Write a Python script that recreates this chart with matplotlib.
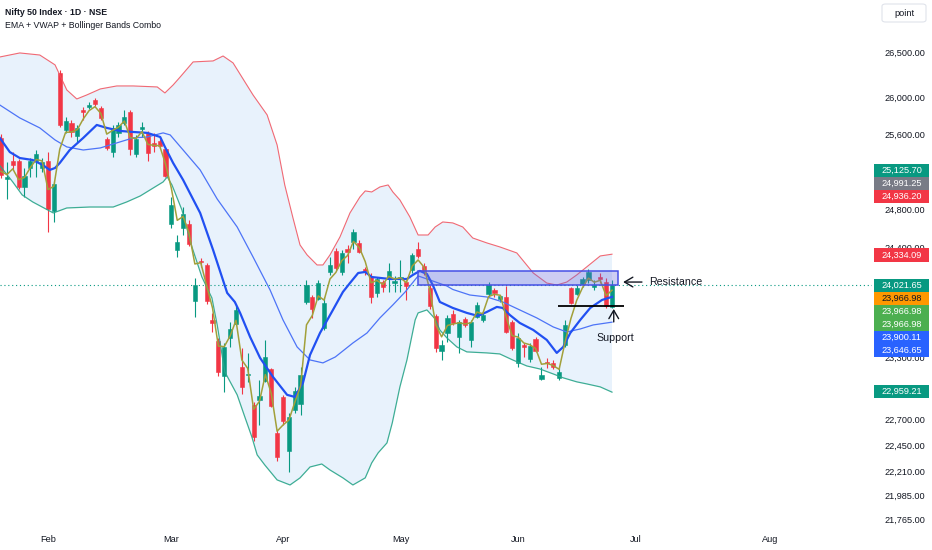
import matplotlib
matplotlib.use("Agg")
import matplotlib.pyplot as plt
import numpy as np
from matplotlib.patches import Rectangle, FancyBboxPatch
from matplotlib.ticker import FixedLocator, NullLocator

plt.rcParams['font.family'] = ['Liberation Sans', 'DejaVu Sans']

# daily candles, Nifty 50
opens = [25557, 25119, 25310, 25310, 25034, 25235, 25310, 25235, 25310, 24782,
         26267, 25643, 25719, 25578, 25860, 25893, 25969, 25882, 25546, 25405,
         25611, 25719, 25838, 25384, 25654, 25611, 25503, 25524, 25438, 24646,
         24378, 24605, 24646, 23859, 24265, 24224, 23669, 23460, 23117, 23490,
         23629, 23204, 23127, 22836, 22884, 23068, 23185, 22568, 22913, 22398,
         22788, 22845, 23849, 23899, 23879, 23589, 24153, 24367, 24153, 24388,
         24460, 24450, 24183, 24101, 23940, 24050, 24081, 24040, 24081, 24050,
         24173, 24388, 24214, 23990, 23709, 23361, 23539, 23729, 23500, 23679,
         23470, 23699, 23669, 23930, 23970, 23879, 23899, 23649, 23244, 23421,
         23283, 23480, 23088, 23254, 23244, 23098, 23421, 23990, 23930, 24030,
         24071, 24000, 24101, 24050, 23799]
highs = [25600, 25299, 25405, 25331, 25235, 25341, 25427, 25341, 25405, 25097,
         26300, 25784, 25751, 25697, 25893, 25947, 25991, 25903, 25567, 25697,
         25729, 25860, 25860, 25589, 25729, 25632, 25611, 25546, 25449, 24929,
         24532, 24823, 24688, 24091, 24296, 24245, 23739, 23490, 23440, 23649,
         23819, 23391, 23342, 22865, 23078, 23470, 23195, 22596, 22933, 22759,
         23010, 23204, 24071, 23919, 24071, 23899, 24306, 24399, 24378, 24429,
         24594, 24481, 24204, 24142, 24101, 24071, 24245, 24112, 24275, 24071,
         24347, 24460, 24245, 24020, 23729, 23470, 23719, 23769, 23669, 23699,
         23669, 23849, 23739, 24050, 23990, 23919, 24010, 23669, 23539, 23440,
         23440, 23500, 23204, 23293, 23273, 23204, 23669, 24000, 24020, 24101,
         24183, 24071, 24142, 24091, 24071]
lows = [25129, 24907, 25214, 25013, 24929, 25140, 25140, 25193, 24563, 24667,
        25675, 25611, 25567, 25503, 25751, 25871, 25903, 25751, 25427, 25352,
        25567, 25697, 25373, 25352, 25567, 25310, 25405, 25449, 25140, 24605,
        24306, 24532, 24419, 23699, 24204, 23829, 23549, 23117, 22961, 23401,
        23619, 22942, 23059, 22492, 22644, 23059, 22817, 22303, 22644, 22199,
        22759, 22740, 23829, 23689, 23869, 23569, 24122, 24173, 24122, 24245,
        24388, 24347, 24122, 23839, 23899, 23950, 23950, 23950, 23950, 23869,
        24142, 24296, 24122, 23779, 23352, 23273, 23450, 23619, 23342, 23599,
        23401, 23689, 23649, 23899, 23899, 23849, 23539, 23371, 23204, 23302,
        23254, 23352, 23078, 23195, 23185, 23078, 23401, 23829, 23919, 24000,
        24040, 23970, 24040, 23789, 23789]
closes = [25161, 25140, 25267, 25034, 25150, 25310, 25384, 25299, 24803, 25065,
          25697, 25740, 25621, 25665, 25838, 25914, 25925, 25773, 25449, 25665,
          25697, 25784, 25438, 25546, 25675, 25395, 25470, 25470, 25150, 24845,
          24460, 24750, 24440, 24020, 24255, 23859, 23639, 23156, 23401, 23579,
          23769, 23010, 23136, 22530, 22923, 23302, 22826, 22341, 22682, 22721,
          22971, 23127, 24020, 23779, 24040, 23839, 24224, 24193, 24347, 24357,
          24563, 24357, 24163, 23899, 24081, 24000, 24163, 24061, 24101, 24010,
          24327, 24316, 24153, 23809, 23391, 23421, 23689, 23639, 23649, 23619,
          23649, 23819, 23719, 24020, 23940, 23909, 23549, 23391, 23490, 23401,
          23411, 23361, 23127, 23244, 23204, 23156, 23619, 23839, 23990, 24081,
          24153, 24020, 24081, 23809, 24021.65]

# short EMA (olive line), one value per candle
ema_fast = [25200, 25164, 25226, 25111, 25134, 25240, 25326, 25310, 25006, 25041,
            25435, 25618, 25620, 25647, 25762, 25853, 25896, 25822, 25598, 25638,
            25673, 25740, 25559, 25551, 25625, 25487, 25477, 25473, 25279, 25019,
            24684, 24724, 24554, 24234, 24247, 24014, 23789, 23409, 23404, 23509,
            23665, 23272, 23190, 22794, 22871, 23130, 22948, 22584, 22643, 22690,
            22859, 23020, 23620, 23715, 23910, 23867, 24081, 24148, 24267, 24321,
            24466, 24401, 24258, 24043, 24066, 24026, 24108, 24080, 24093, 24043,
            24213, 24275, 24202, 23966, 23621, 23501, 23614, 23629, 23641, 23628,
            23641, 23748, 23731, 23904, 23926, 23916, 23696, 23513, 23499, 23440,
            23423, 23386, 23231, 23239, 23218, 23181, 23444, 23681, 23866, 23995,
            24090, 24048, 24068, 23913, 23966.98]

# Bollinger upper band (bar position, value)
upper_x = [-0.2, 3.2, 6.6, 9.2, 11.2, 12.9, 14.6, 16.9, 19.7, 22.5, 26.6, 27.9, 29.3, 30.5,
           32.7, 36.1, 37.8, 39.5, 42.9, 45.3, 47.0, 48.3, 49.7, 50.9, 52.1, 53.8, 54.8, 56.0,
           57.7, 59.4, 61.1, 62.0, 63.1, 64.5, 65.9, 66.7, 67.9, 69.6, 71.0, 72.7, 73.9, 75.2,
           76.9, 78.6, 80.3, 82.7, 84.9, 87.8, 90.6, 92.9, 94.6, 96.3, 98.0, 99.7, 102.0, 104.0]
upper_v = [26444, 26489, 26466, 26356, 26079, 25980, 26024, 26090, 26123, 26123, 26112, 26046,
           26134, 26222, 26389, 26400, 26455, 26378, 26024, 25806, 25481, 25055, 24709, 24429,
           24327, 24224, 24224, 24327, 24512, 24761, 24929, 24992, 24981, 25034, 25055, 24981,
           24897, 24719, 24532, 24532, 24615, 24667, 24657, 24615, 24501, 24450, 24409, 24347,
           24142, 24040, 24020, 24050, 24122, 24204, 24316, 24334.09]

# Bollinger lower band
lower_x = [-0.2, 2.0, 3.6, 5.4, 8.9, 11.2, 15.1, 19.1, 21.4, 23.7, 26.2, 27.6, 28.3, 29.1,
           30.8, 32.5, 34.2, 35.9, 36.8, 38.1, 40.2, 41.5, 42.7, 43.6, 44.9, 47.0, 49.2, 50.9,
           52.6, 54.6, 56.0, 58.2, 59.9, 62.0, 63.1, 64.2, 65.7, 66.6, 67.9, 69.1, 70.5, 71.0,
           72.5, 73.9, 74.7, 75.9, 77.6, 79.3, 82.7, 84.9, 87.1, 89.5, 91.7, 94.0, 95.7, 98.0,
           99.7, 102.0, 104.0]
lower_v = [25260, 25087, 24950, 24876, 24761, 24813, 24823, 24823, 24876, 24939, 25034, 25087,
           25140, 25055, 24792, 24409, 24101, 23889, 23619, 23156, 22933, 22721, 22530, 22360,
           22265, 22125, 22078, 22144, 22246, 22274, 22218, 22144, 22078, 22144, 22284, 22379,
           22473, 22663, 23010, 23273, 23669, 23739, 23769, 23679, 23569, 23490, 23401, 23352,
           23342, 23332, 23273, 23214, 23185, 23136, 23098, 23059, 23039, 23010, 22959.21]

# Bollinger basis (thin blue)
basis_x = [-0.2, 3.2, 6.6, 9.2, 11.2, 14.0, 16.9, 19.7, 22.5, 24.9, 27.6, 28.8, 31.0, 33.9,
           36.8, 40.2, 42.9, 45.8, 48.0, 50.4, 52.6, 54.8, 56.9, 59.9, 62.3, 64.5, 66.7, 68.8,
           71.0, 73.0, 75.9, 76.9, 79.8, 82.7, 85.4, 88.3, 91.2, 94.0, 96.3, 98.6, 100.8, 104.0]
basis_v = [25914, 25773, 25665, 25535, 25460, 25427, 25449, 25503, 25557, 25567, 25611, 25589,
           25427, 25214, 24907, 24615, 24306, 23970, 23669, 23401, 23273, 23244, 23302, 23440,
           23539, 23689, 23819, 23950, 24112, 24071, 24010, 23975, 23919, 23899, 23849, 23769,
           23689, 23599, 23549, 23579, 23619, 23646.65]

# slow EMA (thick blue)
ema_x = [-0.2, 1.5, 3.2, 5.4, 7.1, 8.3, 9.2, 10.0, 11.7, 14.0, 16.3, 18.0, 20.3, 22.5, 24.9,
         27.1, 27.9, 29.3, 31.0, 33.9, 36.1, 38.5, 39.8, 40.7, 42.4, 44.1, 46.3, 48.7, 50.0,
         51.4, 52.6, 54.3, 56.5, 58.2, 59.4, 60.8, 62.0, 63.1, 66.2, 69.1, 70.1, 71.3, 72.5,
         73.5, 74.7, 76.9, 79.3, 81.2, 82.7, 84.4, 85.4, 86.6, 88.3, 90.6, 92.9, 94.6, 95.7,
         96.9, 98.6, 100.3, 102.3, 104.0]
ema_v = [25557, 25405, 25341, 25320, 25267, 25214, 25235, 25288, 25427, 25557, 25697, 25665,
         25632, 25621, 25611, 25567, 25460, 25288, 25108, 24761, 24378, 23940, 23849, 23739,
         23500, 23293, 23107, 22933, 22913, 23049, 23322, 23539, 23769, 23950, 24040, 24142,
         24153, 24101, 24081, 24081, 24122, 24163, 24132, 24020, 23849, 23789, 23739, 23709,
         23749, 23799, 23789, 23719, 23639, 23569, 23470, 23342, 23401, 23539, 23669, 23789,
         23869, 23900.11]

# drawn levels
resistance_lo, resistance_hi = 24020, 24163
resistance_from, resistance_to = 71.0, 105.0
support_level = 23809
support_from, support_to = 94.8, 106.0

months = ["Feb", "Mar", "Apr", "May", "Jun", "Jul", "Aug"]
month_bars = [8, 29, 48, 68, 88, 108, 131]

# scale labels that are not covered by a value tag
price_ticks = [26500, 26000, 25600, 24800, 24400, 23300, 22700, 22450, 22210, 21985, 21765]

tag_values = [25125.70, 24991.25, 24936.20, 24334.09, 24021.65, 23966.98, 23966.98,
              23966.98, 23900.11, 23646.65, 22959.21]
tag_colors = ["#089981", "#787b86", "#f23645", "#f23645", "#089981", "#ff9800", "#4caf50",
              "#4caf50", "#2962ff", "#2962ff", "#089981"]
tag_y_px = [170.5, 183.5, 196.5, 255, 285, 298, 311, 324, 337, 350, 391]

W, H = 932, 550
TXT = "#131722"
fig = plt.figure(figsize=(W / 100, H / 100), dpi=100)
ax = fig.add_axes([0, 22 / H, 872 / W, 528 / H])

o = np.array(opens, float)
c = np.array(closes, float)
hi = np.array(highs, float)
lo = np.array(lows, float)
bars = np.arange(len(c))
col = np.where(c >= o, "#089981", "#f23645")

# band fill
ax.fill(upper_x + lower_x[::-1], upper_v + lower_v[::-1], color="#e8f2fc", lw=0, zorder=0.5)
ax.axhline(closes[-1], color="#089981", lw=0.8, ls=(0, (1, 2.5)), zorder=1)

# candles
ax.vlines(bars, lo, hi, colors=col, lw=0.8, zorder=2)
ax.bar(bars, np.abs(c - o), bottom=np.minimum(o, c), width=0.72, color=col,
       edgecolor=col, lw=0.4, zorder=2.2)

# indicators
ax.plot(upper_x, upper_v, color="#f0505c", lw=0.8, alpha=0.85, zorder=3)
ax.plot(lower_x, lower_v, color="#2aa58a", lw=0.9, alpha=0.9, zorder=3)
ax.plot(basis_x, basis_v, color="#4d74f7", lw=0.9, zorder=3)
ax.plot(ema_x, ema_v, color="#2150f2", lw=1.6, zorder=3.2)
ax.plot(bars, ema_fast, color="#a2a03a", lw=1.1, zorder=3.4)

# resistance zone + support line
ax.add_patch(Rectangle((resistance_from, resistance_lo), resistance_to - resistance_from,
                       resistance_hi - resistance_lo, facecolor=(0.40, 0.40, 0.86, 0.32),
                       edgecolor="#4650e6", lw=1.1, zorder=4))
ax.hlines(support_level, support_from, support_to, color="black", lw=1.3, zorder=5)

ax.annotate("", xy=(105.9, 24050), xytext=(109.1, 24050),
            arrowprops=dict(arrowstyle="->,head_length=0.6,head_width=0.35", color=TXT,
                            lw=1.0, shrinkA=0, shrinkB=0), zorder=5)
ax.text(110.3, 24050, "Resistance", va="center", ha="left", fontsize=7.7, color=TXT)
ax.annotate("", xy=(104.3, 23779), xytext=(104.3, 23649),
            arrowprops=dict(arrowstyle="->,head_length=0.6,head_width=0.35", color=TXT,
                            lw=1.0, shrinkA=0, shrinkB=0), zorder=5)
ax.text(104.6, 23490, "Support", va="center", ha="center", fontsize=7.7, color=TXT)

# axes
ax.set_yscale("log")
ax.set_xlim(-0.17, 148.26)
ax.set_ylim(21681, 27087)
ax.yaxis.tick_right()
ax.yaxis.set_major_locator(FixedLocator(price_ticks))
ax.yaxis.set_minor_locator(NullLocator())
ax.set_yticklabels([f"{v:,.2f}" for v in price_ticks])
ax.set_xticks(month_bars)
ax.set_xticklabels(months)
ax.tick_params(axis="y", which="both", length=0, pad=9, labelsize=6.6, labelcolor=TXT)
ax.tick_params(axis="x", length=0, pad=5, labelsize=6.6, labelcolor=TXT)
for s in ax.spines.values():
    s.set_visible(False)

# last-value tags on the price scale
for v, cc, y in zip(tag_values, tag_colors, tag_y_px):
    fig.patches.append(Rectangle((874 / W, 1 - (y + 6.5) / H), 55 / W, 13 / H,
                                 transform=fig.transFigure, facecolor=cc, edgecolor="none",
                                 zorder=5))
    fig.text(901.5 / W, 1 - y / H, f"{v:,.2f}", ha="center", va="center", fontsize=6.6,
             color=TXT if cc == "#ff9800" else "white", zorder=6)

fig.patches.append(FancyBboxPatch((882 / W, 1 - 22 / H), 44 / W, 18 / H,
                                  boxstyle="round,pad=0,rounding_size=0.004",
                                  transform=fig.transFigure, facecolor="white",
                                  edgecolor="#e0e3eb", lw=0.8, zorder=5))
fig.text(904 / W, 1 - 13 / H, "point", ha="center", va="center", fontsize=6.6, color=TXT,
         zorder=6)

fig.text(5 / W, 1 - 12.5 / H, "Nifty 50 Index · 1D · NSE", ha="left", va="center",
         fontsize=6.3, fontweight="bold", color=TXT)
fig.text(5 / W, 1 - 25.5 / H, "EMA + VWAP + Bollinger Bands Combo", ha="left", va="center",
         fontsize=6.3, color=TXT)

fig.savefig("out.png", dpi=100)
